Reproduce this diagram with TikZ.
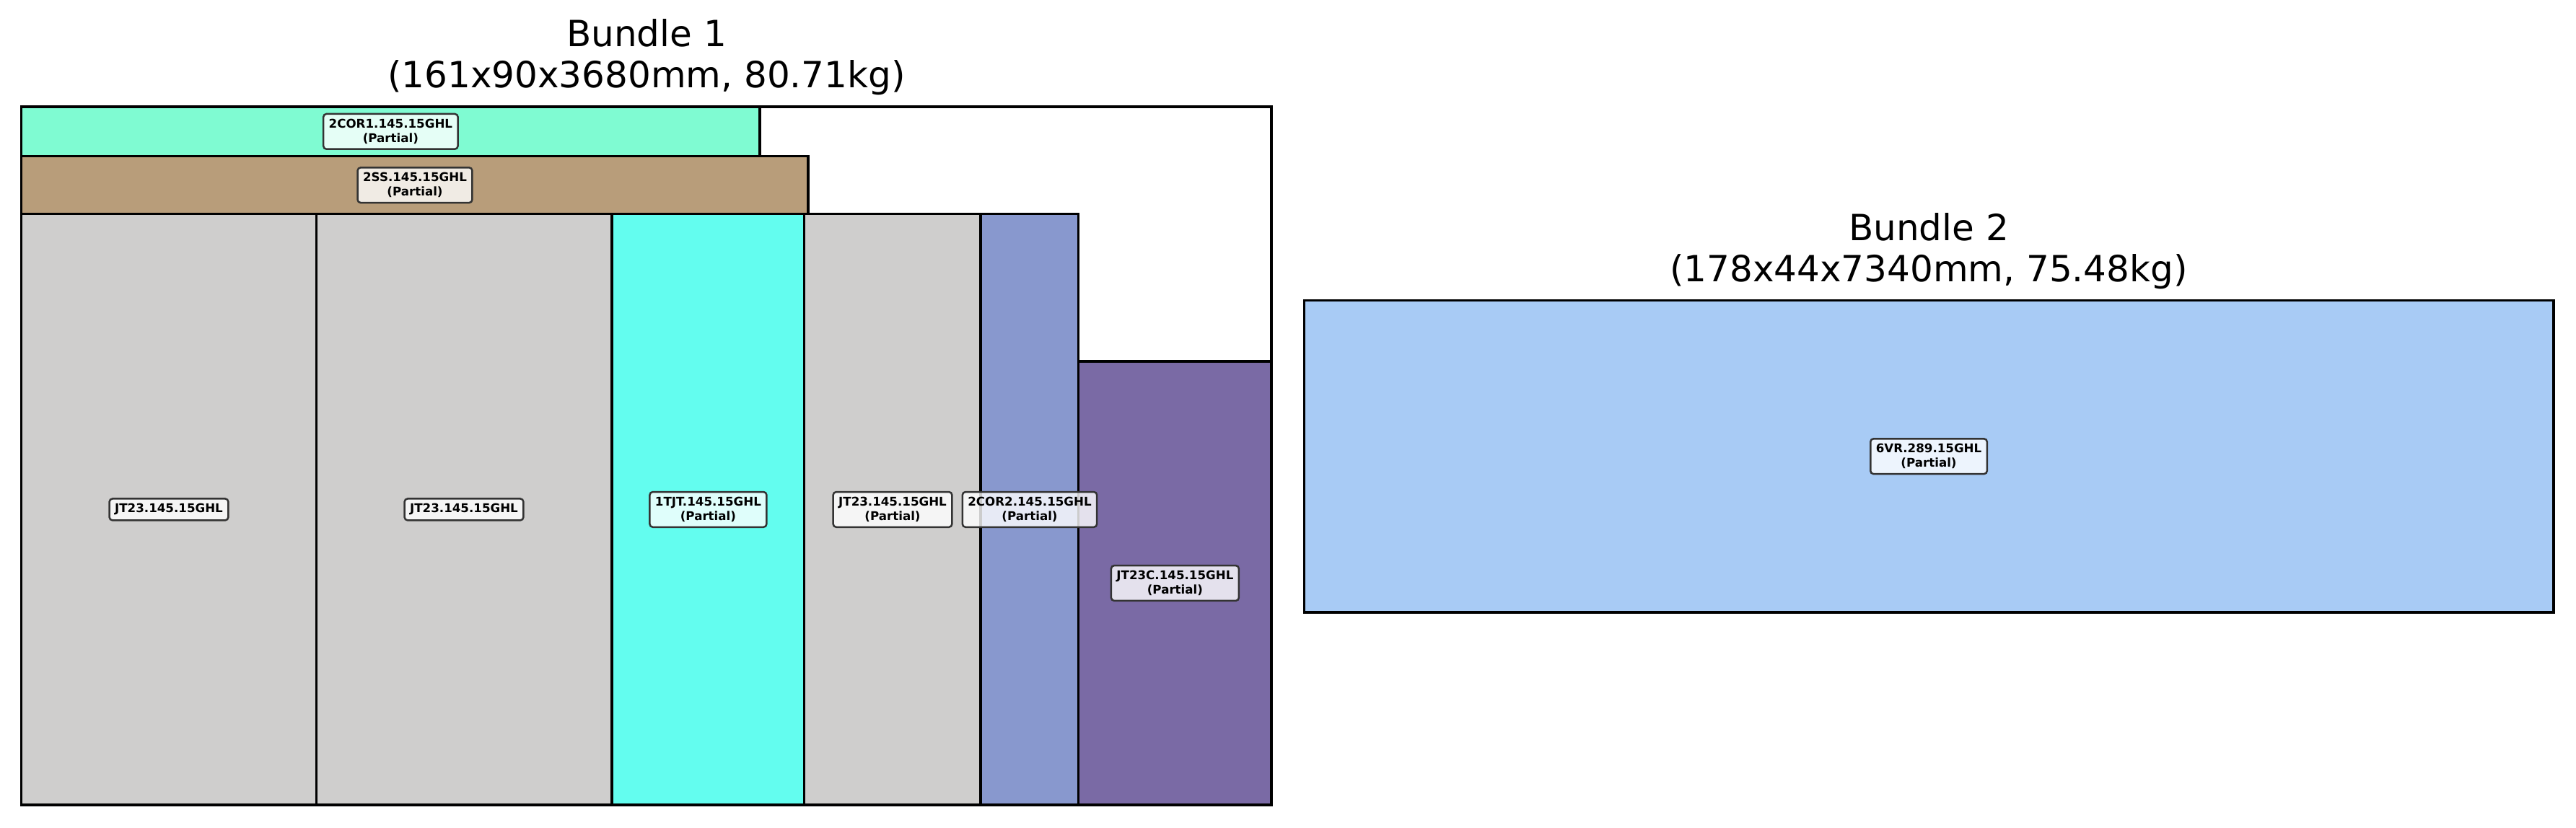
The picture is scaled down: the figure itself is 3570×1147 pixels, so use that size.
\documentclass[tikz,border=0pt]{standalone}
\usepackage{fontspec}
\setmainfont{DejaVu Sans}
\definecolor{cCORa}{RGB}{127,251,210}
\definecolor{cSS}{RGB}{184,157,122}
\definecolor{cJT}{RGB}{207,206,205}
\definecolor{cTJT}{RGB}{99,253,239}
\definecolor{cCORb}{RGB}{136,152,206}
\definecolor{cJTC}{RGB}{122,106,165}
\definecolor{cVR}{RGB}{168,203,245}
\tikzset{
  part/.style={draw=black, line width=0.8pt},
  frame/.style={draw=black, line width=0.8pt},
  lbl/.style={draw=black!80, line width=0.6pt, rounded corners=1pt, fill=white, fill opacity=0.8, text opacity=1,
    inner xsep=1.8pt, inner ysep=1.7pt, align=center, font=\fontsize{4}{4.8}\selectfont\bfseries},
  ttl/.style={align=center, font=\fontsize{12}{13.8}\selectfont, inner sep=0pt}
}
\begin{document}
\begin{tikzpicture}[x=0.24pt, y=-0.24pt]
\useasboundingbox (0,0) rectangle (3570,1147);
% Bundle 1
\node[ttl] (t1) at (896,79) {Bundle 1\\(161x90x3680mm, 80.71kg)};
\draw[frame, fill=white] (29.8,148) rectangle (1762,1116);
\draw[part, fill=cCORa] (29.8,148) rectangle (1053,216.7);
\draw[part, fill=cSS] (29.8,216.7) rectangle (1120,296.7);
\draw[part, fill=cJT] (29.8,296.7) rectangle (438.5,1116);
\draw[part, fill=cJT] (438.5,296.7) rectangle (848,1116);
\draw[part, fill=cTJT] (848,296.7) rectangle (1114.7,1116);
\draw[part, fill=cJT] (1114.7,296.7) rectangle (1359,1116);
\draw[part, fill=cCORb] (1359,296.7) rectangle (1494.7,1116);
\draw[part, fill=cJTC] (1494.7,501) rectangle (1762,1116);
\draw[frame] (29.8,148) rectangle (1762,1116);
\node[lbl] (l1) at (541.4,182.3) {2COR1.145.15GHL\\(Partial)};
\node[lbl] (l2) at (575,256.7) {2SS.145.15GHL\\(Partial)};
\node[lbl] (l3) at (234,706.4) {JT23.145.15GHL};
\node[lbl] (l4) at (643,706.4) {JT23.145.15GHL};
\node[lbl] (l5) at (981.4,706.4) {1TJT.145.15GHL\\(Partial)};
\node[lbl] (l6) at (1237,706.4) {JT23.145.15GHL\\(Partial)};
\node[lbl] (l7) at (1427,706.4) {2COR2.145.15GHL\\(Partial)};
\node[lbl] (l8) at (1628.4,808.5) {JT23C.145.15GHL\\(Partial)};
% Bundle 2
\node[ttl] (t2) at (2673,348) {Bundle 2\\(178x44x7340mm, 75.48kg)};
\draw[part, fill=cVR] (1807.5,416.2) rectangle (3539,849);
\node[lbl] (l9) at (2673,632.7) {6VR.289.15GHL\\(Partial)};
\end{tikzpicture}
\end{document}
